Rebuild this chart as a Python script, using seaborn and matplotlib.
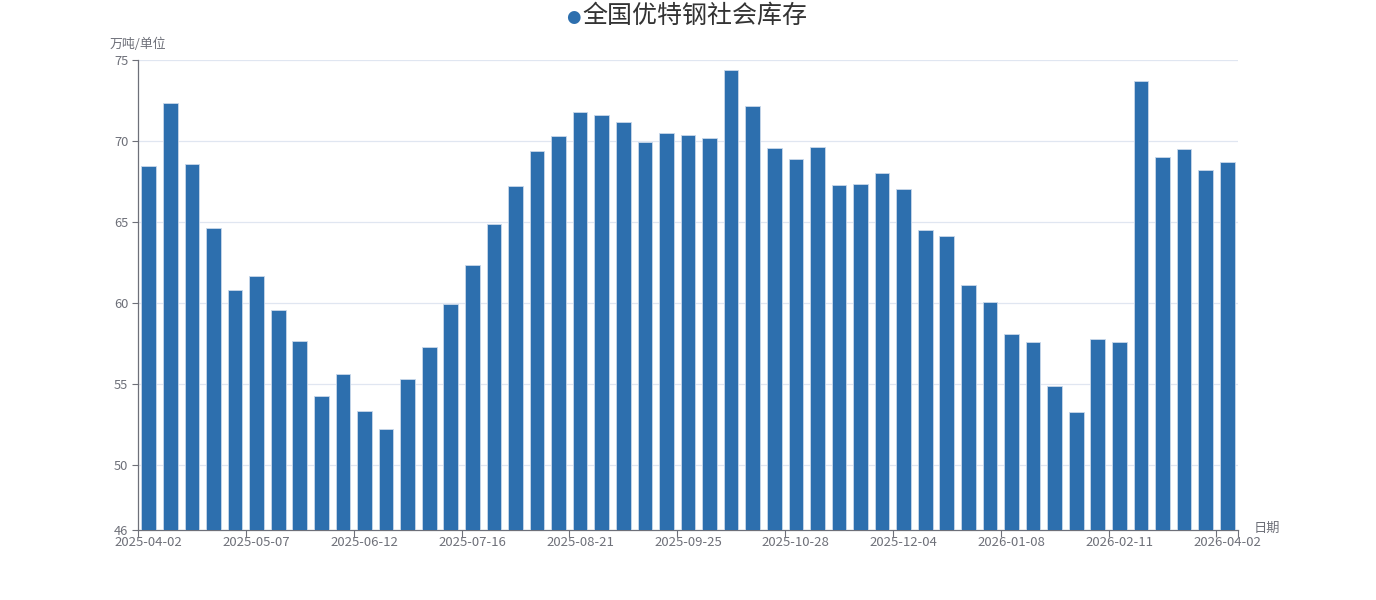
import pandas as pd
import seaborn as sns
import matplotlib.pyplot as plt
from matplotlib.ticker import FixedLocator

# weekly dates (only every 5th label is shown on the chart)
dates = [
    "2025-04-02", "2025-04-10", "2025-04-17", "2025-04-24", "2025-04-30",
    "2025-05-07", "2025-05-15", "2025-05-22", "2025-05-29", "2025-06-05",
    "2025-06-12", "2025-06-19", "2025-06-26", "2025-07-03", "2025-07-10",
    "2025-07-16", "2025-07-24", "2025-07-31", "2025-08-07", "2025-08-14",
    "2025-08-21", "2025-08-28", "2025-09-04", "2025-09-11", "2025-09-18",
    "2025-09-25", "2025-09-30", "2025-10-10", "2025-10-16", "2025-10-23",
    "2025-10-28", "2025-11-06", "2025-11-13", "2025-11-20", "2025-11-27",
    "2025-12-04", "2025-12-11", "2025-12-18", "2025-12-25", "2025-12-31",
    "2026-01-08", "2026-01-15", "2026-01-22", "2026-01-29", "2026-02-05",
    "2026-02-11", "2026-03-05", "2026-03-12", "2026-03-19", "2026-03-26",
    "2026-04-02",
]

# 全国优特钢社会库存 (万吨)
stock = [
    68.48, 72.35, 68.58, 64.63, 60.78, 61.65, 59.57, 57.65, 54.24, 55.62,
    53.33, 52.22, 55.31, 57.28, 59.96, 62.37, 64.88, 67.24, 69.38, 70.31,
    71.81, 71.62, 71.19, 69.96, 70.47, 70.37, 70.19, 74.38, 72.18, 69.57,
    68.89, 69.65, 67.26, 67.35, 68.02, 67.02, 64.51, 64.12, 61.11, 60.08,
    58.09, 57.59, 54.88, 53.29, 57.78, 57.59, 73.70, 68.99, 69.51, 68.21,
    68.70,
]

y_ticks = [46, 50, 55, 60, 65, 70, 75]

sns.set_theme(style="white")
plt.rcParams['font.family'] = ['Noto Sans CJK SC', 'DejaVu Sans']

bar_color = "#2d6fae"
axis_color = "#6e7079"
label_color = "#6e7079"

df = pd.DataFrame({"date": dates, "stock": stock})

fig = plt.figure(figsize=(13.76, 6), dpi=100)
ax = fig.add_axes([138 / 1376, 1 - 530 / 600, 1100 / 1376, 470 / 600])

sns.barplot(data=df, x="date", y="stock", color=bar_color, saturation=1,
            width=0.68, edgecolor="#c9d8ea", linewidth=0.6, ax=ax, zorder=3)

ax.set_ylim(46, 75)
ax.set_xlim(-0.5, len(dates) - 0.5)

# y axis
ax.set_yticks(y_ticks)
ax.set_yticklabels([str(t) for t in y_ticks], color=label_color, fontsize=9.3)
for t in y_ticks[1:]:
    ax.axhline(t, color="#e0e6f1", linewidth=0.9, zorder=1)
ax.tick_params(axis="y", length=4, width=0.8, color=axis_color, pad=3, left=True)

# x axis: labels at every 5th bar centre, ticks at boundaries
label_idx = list(range(0, len(dates), 5))
if label_idx[-1] != len(dates) - 1:
    label_idx.append(len(dates) - 1)
ax.set_xticks(label_idx)
ax.set_xticklabels([dates[i] for i in label_idx], color=label_color, fontsize=9.5)
ax.tick_params(axis="x", which="major", length=0, pad=4, bottom=True)
bounds = [i - 0.5 for i in range(0, len(dates), 5)] + [len(dates) - 0.5]
ax.xaxis.set_minor_locator(FixedLocator(bounds))
ax.tick_params(axis="x", which="minor", length=5, width=0.8, color=axis_color, bottom=True)

for side in ["top", "right"]:
    ax.spines[side].set_visible(False)
for side in ["left", "bottom"]:
    ax.spines[side].set_color(axis_color)
    ax.spines[side].set_linewidth(0.9)

ax.set_xlabel("")
ax.set_ylabel("")

# axis names
fig.text(110 / 1376, 1 - 44 / 600, "万吨/单位", color=label_color, fontsize=9.3,
         ha="left", va="center")
fig.text(1254 / 1376, 1 - 528 / 600, "日期", color=label_color, fontsize=9.5,
         ha="left", va="center")

# title with legend marker
fig.text(573 / 1376, 1 - 17 / 600, "●", color=bar_color, fontsize=12,
         ha="center", va="center", family=['DejaVu Sans'])
fig.text(582 / 1376, 1 - 16 / 600, "全国优特钢社会库存", color="#333333",
         fontsize=18, ha="left", va="center")

fig.savefig("out.png", dpi=100)
